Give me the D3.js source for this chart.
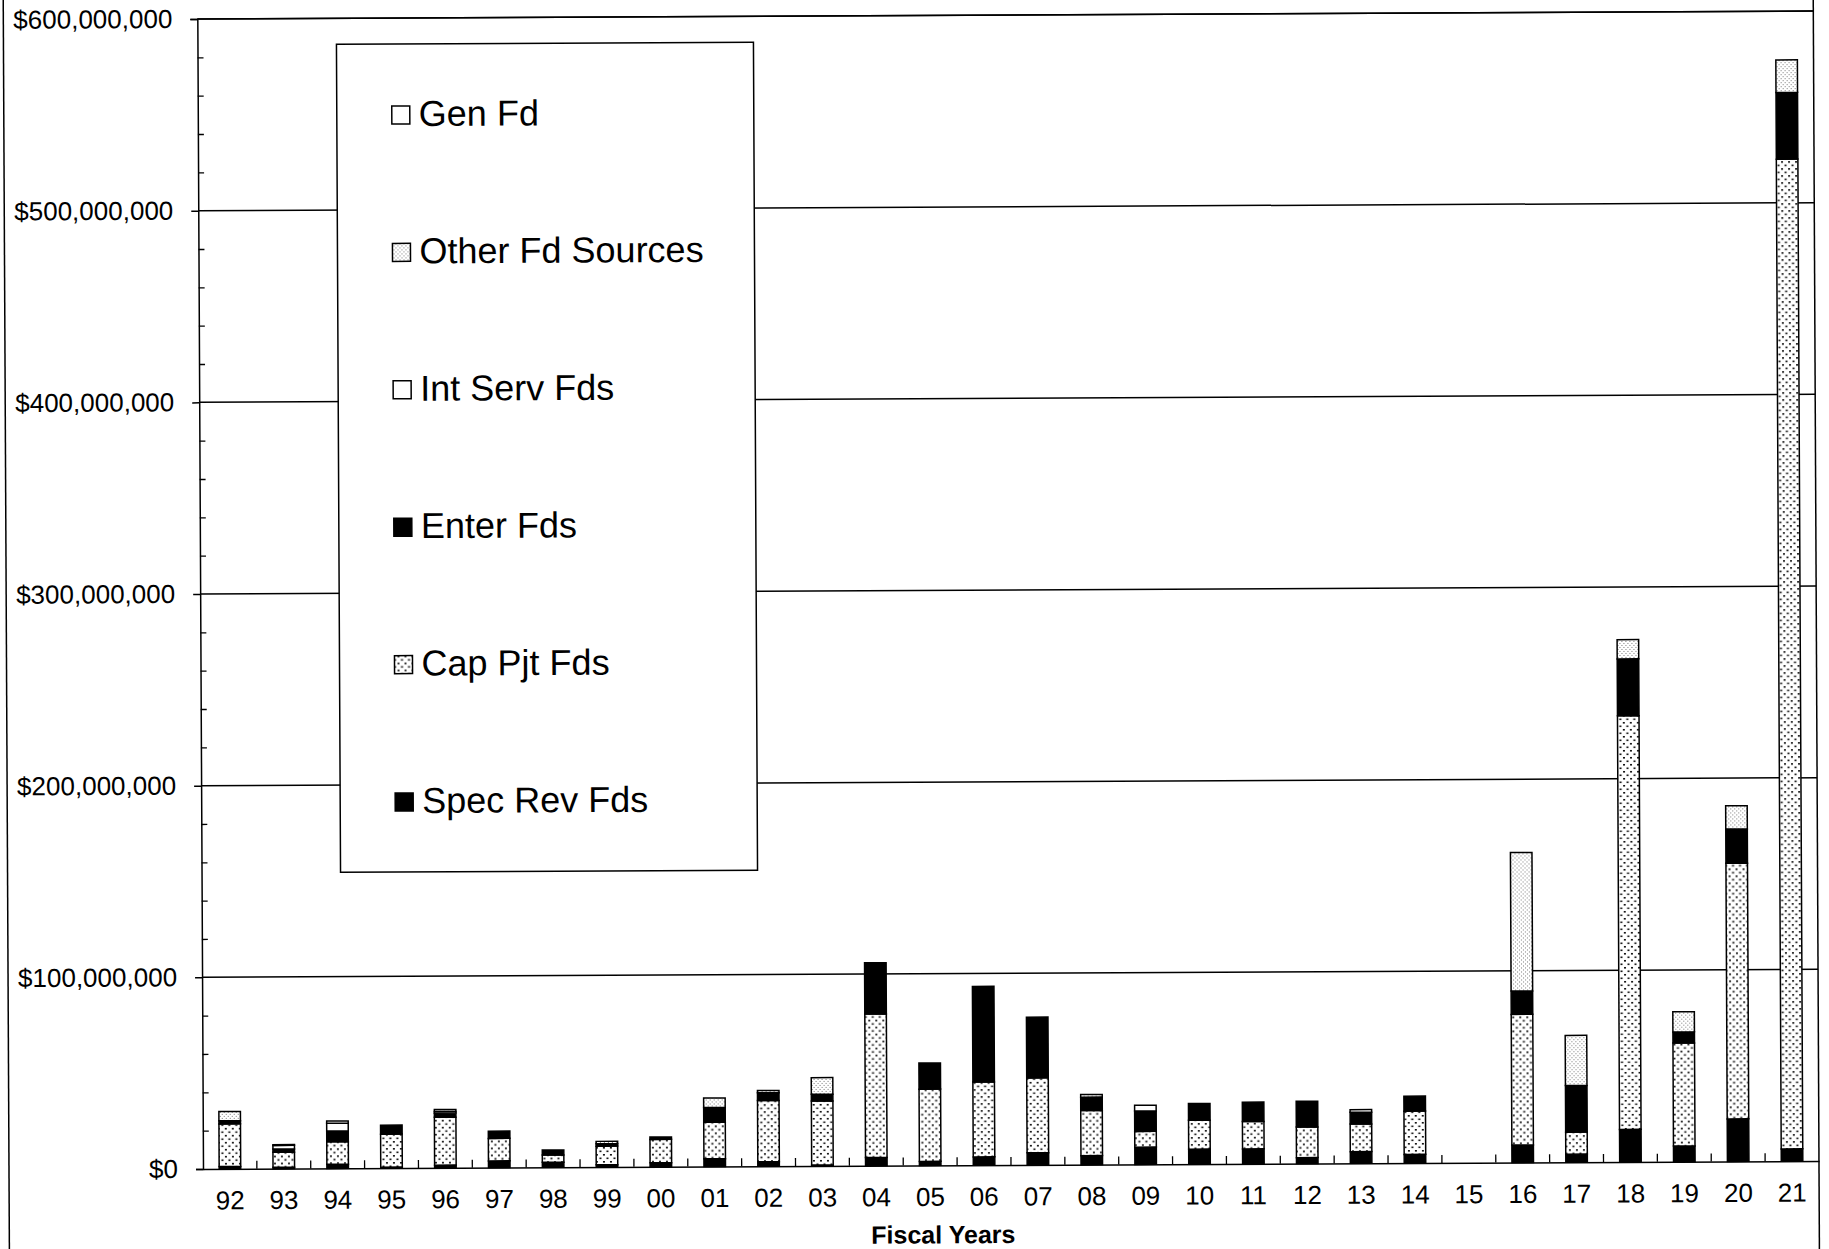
<!DOCTYPE html>
<html>
<head>
<meta charset="utf-8">
<script src="https://cdnjs.cloudflare.com/ajax/libs/d3/7.8.5/d3.min.js"></script>
<style>
  html, body { margin: 0; padding: 0; background: #fff; }
  svg { display: block; }
  text { font-family: "Liberation Sans", Arial, sans-serif; fill: #000; }
</style>
</head>
<body>
<svg id="chart" width="1829" height="1249"></svg>
<script>
// Fiscal years on the category axis
const categories = ["92","93","94","95","96","97","98","99","00","01","02","03","04","05","06",
                    "07","08","09","10","11","12","13","14","15","16","17","18","19","20","21"];

// Funding by source, in millions of dollars (stacked bottom to top)
const specRevFds  = [1.2, 0.7, 2.1, 0.5, 1.4, 3.5, 2.6, 1.2, 2.1, 4.0, 2.3, 0.5, 4.3, 2.1, 4.3,
                     6.3, 4.7, 9.0, 7.8, 7.8, 3.1, 6.1, 4.5, 0, 9.1, 4.2, 17.0, 8.2, 22.2, 6.4];
const capPjtFds   = [22.3, 7.8, 11.8, 17.2, 25.0, 11.7, 3.8, 9.7, 12.2, 19.1, 32.0, 33.4, 74.8, 37.7, 39.1,
                     39.1, 23.5, 8.2, 15.1, 14.3, 16.0, 14.4, 22.6, 0, 68.2, 11.5, 215.8, 53.7, 133.4, 516.4];
const enterFds    = [1.6, 1.7, 5.6, 4.7, 2.1, 3.8, 2.6, 1.2, 1.2, 7.7, 4.0, 3.5, 26.8, 13.6, 49.9,
                     31.7, 7.0, 10.6, 8.7, 10.1, 13.4, 6.1, 7.8, 0, 12.2, 24.3, 29.7, 5.8, 17.8, 34.8];
const intServFds  = [0, 1.9, 4.0, 0, 0.9, 0, 0, 0, 0, 0, 0, 0, 0, 0, 0,
                     0, 0, 3.0, 0, 0, 0, 1.4, 0, 0, 0, 0, 0, 0, 0, 0];
const otherFdSrc  = [4.8, 0, 0, 0, 1.0, 0, 0, 1.3, 0, 4.9, 1.2, 8.7, 0, 0, 0,
                     0, 1.4, 0, 0, 0, 0, 0, 0, 0, 72.2, 26.2, 10.0, 10.5, 12.2, 17.0];
const genFd       = [0, 0.4, 1.2, 0, 0, 0, 0, 0, 0, 0, 0, 0, 0, 0, 0,
                     0, 0, 0, 0, 0, 0, 0, 0, 0, 0, 0, 0, 0, 0, 0];

const seriesKeys   = ["specRev", "capPjt", "enter", "intServ", "other", "gen"];
const seriesLabels = ["Spec Rev Fds", "Cap Pjt Fds", "Enter Fds", "Int Serv Fds", "Other Fd Sources", "Gen Fd"];
const yTickValues  = [0, 100, 200, 300, 400, 500, 600];   // millions
const xTitle = "Fiscal Years";

const rows = categories.map((c, i) => ({
  year: c, specRev: specRevFds[i], capPjt: capPjtFds[i], enter: enterFds[i],
  intServ: intServFds[i], other: otherFdSrc[i], gen: genFd[i]
}));

const svg = d3.select("#chart");
const defs = svg.append("defs");

// Coarse dot pattern (capital projects)
const pCap = defs.append("pattern").attr("id", "dotsCoarse")
  .attr("patternUnits", "userSpaceOnUse").attr("width", 7).attr("height", 7);
pCap.append("rect").attr("width", 7).attr("height", 7).attr("fill", "#fff");
pCap.append("rect").attr("x", 1).attr("y", 1).attr("width", 2).attr("height", 1.6).attr("fill", "#111");
pCap.append("rect").attr("x", 4.5).attr("y", 4.5).attr("width", 2).attr("height", 1.6).attr("fill", "#111");

// Fine dot pattern (other fund sources)
const pFine = defs.append("pattern").attr("id", "dotsFine")
  .attr("patternUnits", "userSpaceOnUse").attr("width", 4).attr("height", 4);
pFine.append("rect").attr("width", 4).attr("height", 4).attr("fill", "#fff");
pFine.append("rect").attr("x", 0).attr("y", 0).attr("width", 1).attr("height", 1).attr("fill", "#777");
pFine.append("rect").attr("x", 2).attr("y", 2).attr("width", 1).attr("height", 1).attr("fill", "#777");

const fills = {
  specRev: "#000", capPjt: "url(#dotsCoarse)", enter: "#000",
  intServ: "#fff", other: "url(#dotsFine)", gen: "#fff"
};

// Plot frame
const x0 = 203, x1 = 1819, yTop = 19, yBase = 1169;

// The whole page sits on a slight tilt
const g = svg.append("g").attr("transform", `rotate(-0.283, ${x0}, ${yBase})`);

const x = d3.scaleBand().domain(categories).range([x0, x1]).paddingInner(0.6).paddingOuter(0.3);
const y = d3.scaleLinear().domain([0, 600]).range([yBase, yTop]);

// Outer chart border (left and right edges)
g.append("line").attr("x1", 9).attr("x2", 9).attr("y1", -20).attr("y2", 1280)
  .attr("stroke", "#000").attr("stroke-width", 1.5);
g.append("line").attr("x1", x1).attr("x2", x1).attr("y1", -20).attr("y2", 1280)
  .attr("stroke", "#000").attr("stroke-width", 1.5);

// Gridlines
g.append("g").selectAll("line").data(yTickValues.filter(v => v > 0))
  .join("line")
  .attr("x1", x0).attr("x2", x1)
  .attr("y1", d => y(d)).attr("y2", d => y(d))
  .attr("stroke", "#000").attr("stroke-width", 1.5);

// Y axis: labelled major ticks pointing out
const yAxis = d3.axisLeft(y).tickValues(yTickValues).tickSize(7).tickPadding(18)
  .tickFormat(d => d3.format("$,")(d * 1e6));
const ya = g.append("g").attr("transform", `translate(${x0},0)`).call(yAxis);
ya.select(".domain").attr("stroke", "#000").attr("stroke-width", 1.5);
ya.selectAll(".tick line").attr("stroke", "#000").attr("stroke-width", 1.5);
ya.selectAll(".tick text").attr("font-size", 26).attr("font-family", "Liberation Sans, Arial, sans-serif").attr("fill", "#000");

// Minor ticks every $20M pointing inward
const minor = d3.range(0, 601, 20).filter(v => v % 100 !== 0);
const ym = g.append("g").attr("transform", `translate(${x0},0)`)
  .call(d3.axisRight(y).tickValues(minor).tickSize(6).tickFormat(""));
ym.select(".domain").remove();
ym.selectAll(".tick line").attr("stroke", "#000").attr("stroke-width", 1.3);

// X axis: labels centred under bars, ticks between categories
const xAxis = d3.axisBottom(x).tickSize(0).tickPadding(22);
const xa = g.append("g").attr("transform", `translate(0,${yBase})`).call(xAxis);
xa.select(".domain").attr("stroke", "#000").attr("stroke-width", 1.5);
xa.selectAll(".tick text").attr("font-size", 26).attr("font-family", "Liberation Sans, Arial, sans-serif").attr("fill", "#000");

g.append("g").selectAll("line").data(categories.slice(1))
  .join("line")
  .attr("x1", d => x(d) - x.step() * x.paddingInner() / 2)
  .attr("x2", d => x(d) - x.step() * x.paddingInner() / 2)
  .attr("y1", yBase).attr("y2", yBase - 8)
  .attr("stroke", "#000").attr("stroke-width", 1.3);

// Plot area top edge
g.append("line").attr("x1", x0).attr("x2", x1).attr("y1", yTop).attr("y2", yTop)
  .attr("stroke", "#000").attr("stroke-width", 1.5);

// Stacked bars
const stacked = d3.stack().keys(seriesKeys)(rows);
const barG = g.append("g");
stacked.forEach(layer => {
  barG.append("g").selectAll("rect")
    .data(layer.filter(d => d[1] - d[0] > 0))
    .join("rect")
    .attr("x", d => x(d.data.year))
    .attr("width", x.bandwidth())
    .attr("y", d => y(d[1]))
    .attr("height", d => y(d[0]) - y(d[1]))
    .attr("fill", fills[layer.key])
    .attr("stroke", "#000").attr("stroke-width", 1.5);
});

// Axis title
g.append("text").attr("x", 943).attr("y", 1247).attr("text-anchor", "middle")
  .attr("font-size", 25).attr("font-weight", "bold").text(xTitle);

// Legend
const lg = g.append("g");
lg.append("rect").attr("x", 342).attr("y", 45).attr("width", 417).attr("height", 828)
  .attr("fill", "#fff").attr("stroke", "#000").attr("stroke-width", 1.5);
const legendOrder = seriesKeys.map((k, i) => ({ key: k, label: seriesLabels[i] })).reverse();
const item = lg.selectAll("g.item").data(legendOrder).join("g").attr("class", "item")
  .attr("transform", (d, i) => `translate(0,${127 + i * 137.4})`);
item.append("rect").attr("x", 397).attr("y", -20).attr("width", 18).attr("height", 18)
  .attr("fill", d => fills[d.key]).attr("stroke", "#000").attr("stroke-width", 1.5);
item.append("text").attr("x", 424).attr("y", 0).attr("font-size", 36).text(d => d.label);
</script>
</body>
</html>
